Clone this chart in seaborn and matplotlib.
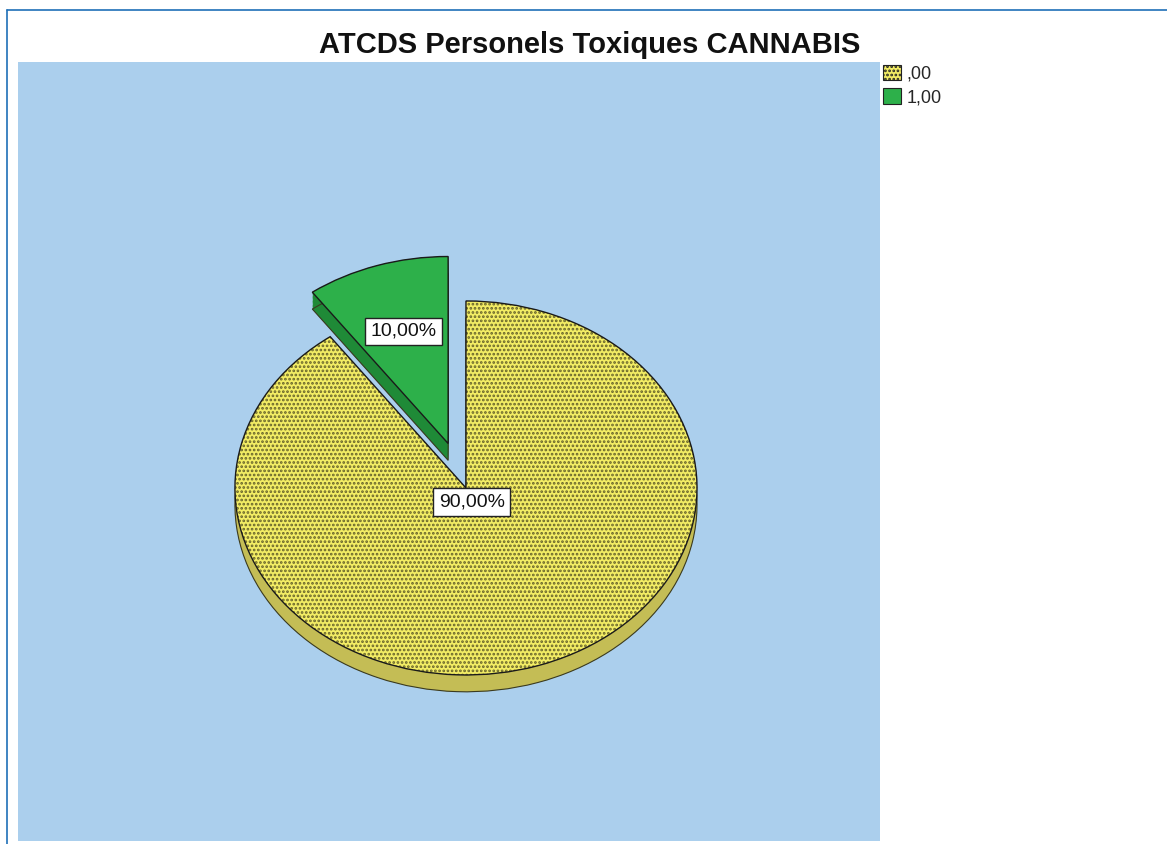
import matplotlib
matplotlib.use("Agg")
import matplotlib.pyplot as plt
import matplotlib.patches as mpatches
from matplotlib.lines import Line2D
import numpy as np
import seaborn as sns

# ---- data ----
categories = [",00", "1,00"]
values = [90.0, 10.0]
pct_labels = ["90,00%", "10,00%"]
title = "ATCDS Personels Toxiques CANNABIS"

sns.set_theme(style="white")
plt.rcParams['font.family'] = ['Liberation Sans', 'DejaVu Sans']
plt.rcParams['hatch.linewidth'] = 1.3

top_colors = ["#f2ec64", "#2db04a"]
side_colors = ["#c4bd55", "#1f8a37"]
hatch_color = "#66622a"
bg = "#abcfed"

W, H = 1167, 844
fig = plt.figure(figsize=(W / 100, H / 100), dpi=100)
fig.patch.set_facecolor("white")

ax = fig.add_axes([18 / W, 3 / H, 862 / W, 779 / H])

explode = [0.0, 0.25]
depth = 0.09
common = dict(startangle=90, counterclock=False, explode=explode, normalize=True)

# side (3D depth) layers
for k in np.linspace(depth, 0.0, 14):
    ax.pie(values, center=(0, -k), colors=side_colors,
           wedgeprops=dict(linewidth=0), **common)
# bottom outline of depth
ax.pie(values, center=(0, -depth), colors=side_colors,
       wedgeprops=dict(linewidth=0.8, edgecolor="#3a3a20"), **common)

# top faces with hatch
tops, _ = ax.pie(values, colors=top_colors,
                 wedgeprops=dict(linewidth=0, edgecolor=hatch_color), **common)
tops[0].set_hatch("....")
# outlines
outl, _ = ax.pie(values, colors=top_colors,
                 wedgeprops=dict(linewidth=1.0, edgecolor="#1a1a1a", fill=False), **common)

# percentage labels
pct_dist = [0.08, 0.63]
for w, lab, d in zip(tops, pct_labels, pct_dist):
    ang = np.deg2rad((w.theta1 + w.theta2) / 2)
    cx, cy = w.center
    ax.text(cx + d * np.cos(ang), cy + d * np.sin(ang), lab, ha="center", va="center",
            fontsize=14, color="#111111",
            bbox=dict(boxstyle="square,pad=0.28", facecolor="white", edgecolor="#222222", linewidth=1.0))

ax.set_aspect("auto")
ax.set_xlim(-1.939, 1.792)
ax.set_ylim(-1.888, 2.278)
ax.set_frame_on(True)
ax.set_facecolor(bg)
for s in ax.spines.values():
    s.set_visible(False)
ax.set_xticks([])
ax.set_yticks([])

# title
fig.text(590 / W, 1 - 45 / H, title, ha="center", va="center",
         fontsize=21, fontweight="bold", color="#111111")

# legend
handles = [
    mpatches.Patch(facecolor=top_colors[0], edgecolor="#222222", hatch="....", linewidth=0.8, label=categories[0]),
    mpatches.Patch(facecolor=top_colors[1], edgecolor="#222222", linewidth=0.8, label=categories[1]),
]
leg = fig.legend(handles=handles, loc="upper left", bbox_to_anchor=(881 / W, 1 - 63 / H),
                 frameon=False, fontsize=13, handlelength=1.0, handleheight=0.95,
                 handletextpad=0.3, labelspacing=0.3, borderaxespad=0, borderpad=0.1)

# outer frame lines
fig.add_artist(Line2D([7 / W, 1], [1 - 9.5 / H, 1 - 9.5 / H], color="#1f6fb8", linewidth=1.2,
                      transform=fig.transFigure))
fig.add_artist(Line2D([7 / W, 7 / W], [0, 1 - 9.5 / H], color="#1f6fb8", linewidth=1.2,
                      transform=fig.transFigure))

fig.savefig("out.png", dpi=100, facecolor="white")
